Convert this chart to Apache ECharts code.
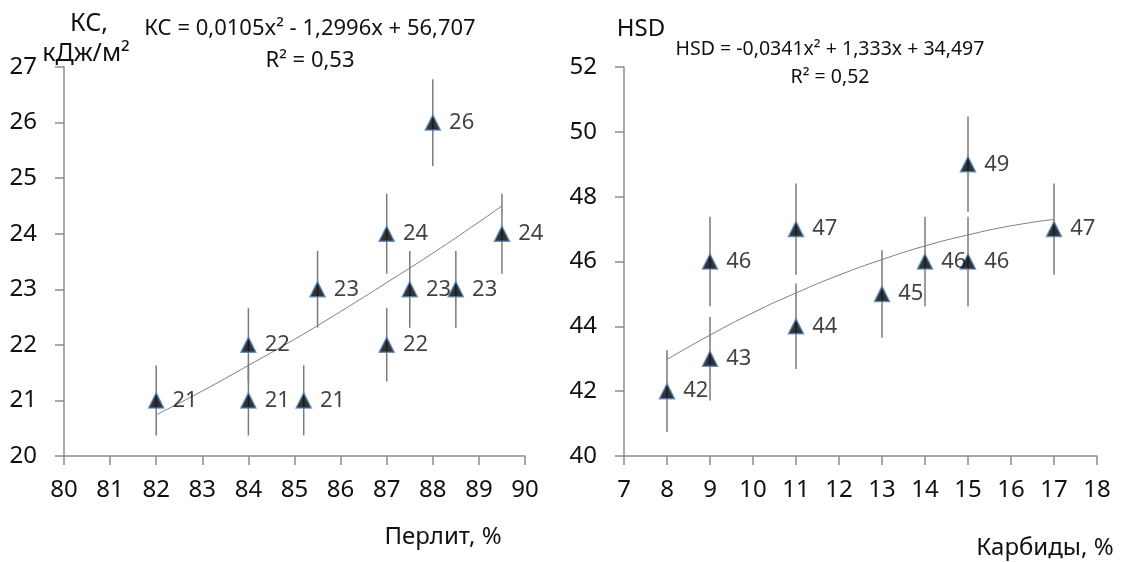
<!DOCTYPE html>
<html><head><meta charset="utf-8">
<script src="https://cdn.jsdelivr.net/npm/echarts@6/dist/echarts.min.js"></script>
<style>html,body{margin:0;padding:0;background:#fff}#c{width:1126px;height:562px}</style>
</head><body><div id="c"></div>
<script>
// Left panel: impact strength vs pearlite
const perlite = [82, 84, 84, 85.2, 85.5, 87, 87, 87.5, 88, 88.5, 89.5];
const kc = [21, 22, 21, 21, 23, 24, 22, 23, 26, 23, 24];
const kcErr = [0.63, 0.66, 0.63, 0.63, 0.69, 0.72, 0.66, 0.69, 0.78, 0.69, 0.72];
const kcTrendX = [82, 83, 84, 85, 86, 87, 88, 89, 89.5];
const kcTrendY = [20.74, 21.17, 21.63, 22.10, 22.60, 23.12, 23.65, 24.21, 24.50];
// Right panel: hardness vs carbides
const carbides = [8, 9, 9, 11, 11, 13, 14, 15, 15, 17];
const hsd = [42, 43, 46, 44, 47, 45, 46, 46, 49, 47];
const hsdErr = [1.26, 1.29, 1.38, 1.32, 1.41, 1.35, 1.38, 1.38, 1.47, 1.41];
const hsdTrendX = [8, 9, 10, 11, 12, 13, 14, 15, 16, 17];
const hsdTrendY = [42.98, 43.73, 44.42, 45.03, 45.58, 46.06, 46.48, 46.82, 47.10, 47.30];
// Texts
const eqLeft = 'КС = 0,0105x² - 1,2996x + 56,707';
const r2Left = 'R² = 0,53';
const eqRight = 'HSD = -0,0341x² + 1,333x + 34,497';
const r2Right = 'R² = 0,52';
const yNameLeft1 = 'КС,';
const yNameLeft2 = 'кДж/м²';
const yNameRight = 'HSD';
const xNameLeft = 'Перлит, %';
const xNameRight = 'Карбиды, %';

const FONT = 'Noto Sans';
const axisColor = '#8c8c8c';
const TICK_FS = 24;

function xAxis(idx, min, max, interval) {
  return {
    type: 'value', gridIndex: idx, min: min, max: max, interval: interval,
    axisLine: {show: true, onZero: false, lineStyle: {color: axisColor, width: 1.5}},
    axisTick: {show: true, length: 9, lineStyle: {color: axisColor, width: 1.5}},
    axisLabel: {color: '#111', fontSize: TICK_FS, fontFamily: FONT, margin: 22},
    splitLine: {show: false}
  };
}
function yAxis(idx, min, max, interval) {
  return {
    type: 'value', gridIndex: idx, min: min, max: max, interval: interval,
    axisLine: {show: true, onZero: false, lineStyle: {color: axisColor, width: 1.5}},
    axisTick: {show: true, length: 9, lineStyle: {color: axisColor, width: 1.5}},
    axisLabel: {color: '#111', fontSize: TICK_FS, fontFamily: FONT, margin: 27},
    splitLine: {show: false}
  };
}
function pairs(xs, ys) { return xs.map((x, i) => [x, ys[i]]); }
function errData(xs, ys, es) { return xs.map((x, i) => [x, ys[i] - es[i], ys[i] + es[i]]); }
function errSeries(idx, data) {
  return {
    type: 'custom', xAxisIndex: idx, yAxisIndex: idx, z: 1, silent: true,
    data: data,
    encode: {x: 0, y: [1, 2]},
    renderItem: function (params, api) {
      const lo = api.coord([api.value(0), api.value(1)]);
      const hi = api.coord([api.value(0), api.value(2)]);
      return {type: 'line', shape: {x1: lo[0], y1: lo[1], x2: hi[0], y2: hi[1]},
              style: {stroke: '#7a7a7a', lineWidth: 1.5}};
    }
  };
}
function trendSeries(idx, data) {
  return {type: 'line', xAxisIndex: idx, yAxisIndex: idx, z: 2, data: data, smooth: true,
          showSymbol: false, symbol: 'none', lineStyle: {color: '#7f7f7f', width: 1}, silent: true};
}
function pointSeries(idx, data) {
  return {
    type: 'scatter', xAxisIndex: idx, yAxisIndex: idx, z: 3, data: data,
    symbol: 'triangle', symbolSize: 15,
    itemStyle: {color: '#000', borderColor: '#4f81bd', borderWidth: 1.5},
    label: {show: true, position: 'right', distance: 8, color: '#111', fontSize: 22, fontFamily: FONT,
            textBorderWidth: 0, textBorderColor: 'transparent',
            formatter: p => String(p.value[1])}
  };
}
function txt(text, x, y, size) {
  return {type: 'text', x: x, y: y, z: 10, silent: true,
          style: {text: text, fill: '#111', font: size + 'px "' + FONT + '"', align: 'center', verticalAlign: 'middle'}};
}

const chart = echarts.init(document.getElementById('c'), null, {renderer: 'canvas'});
chart.setOption({
  animation: false,
  backgroundColor: '#fff',
  graphic: [
    txt(eqLeft, 310, 29, 22),
    txt(r2Left, 310, 61, 22),
    txt(eqRight, 830, 49, 19.5),
    txt(r2Right, 830, 77, 19.5),
    txt(yNameLeft1, 89, 24, 25),
    txt(yNameLeft2, 86, 54, 25),
    txt(yNameRight, 641, 29, 24),
    txt(xNameLeft, 443, 537, 24),
    txt(xNameRight, 1045, 548, 24)
  ],
  grid: [
    {left: 64, right: 601, top: 67, bottom: 106, containLabel: false},
    {left: 624, right: 29, top: 67, bottom: 106, containLabel: false}
  ],
  xAxis: [xAxis(0, 80, 90, 1), xAxis(1, 7, 18, 1)],
  yAxis: [yAxis(0, 20, 27, 1), yAxis(1, 40, 52, 2)],
  series: [
    errSeries(0, errData(perlite, kc, kcErr)),
    trendSeries(0, pairs(kcTrendX, kcTrendY)),
    pointSeries(0, pairs(perlite, kc)),
    errSeries(1, errData(carbides, hsd, hsdErr)),
    trendSeries(1, pairs(hsdTrendX, hsdTrendY)),
    pointSeries(1, pairs(carbides, hsd))
  ]
});
</script></body></html>
